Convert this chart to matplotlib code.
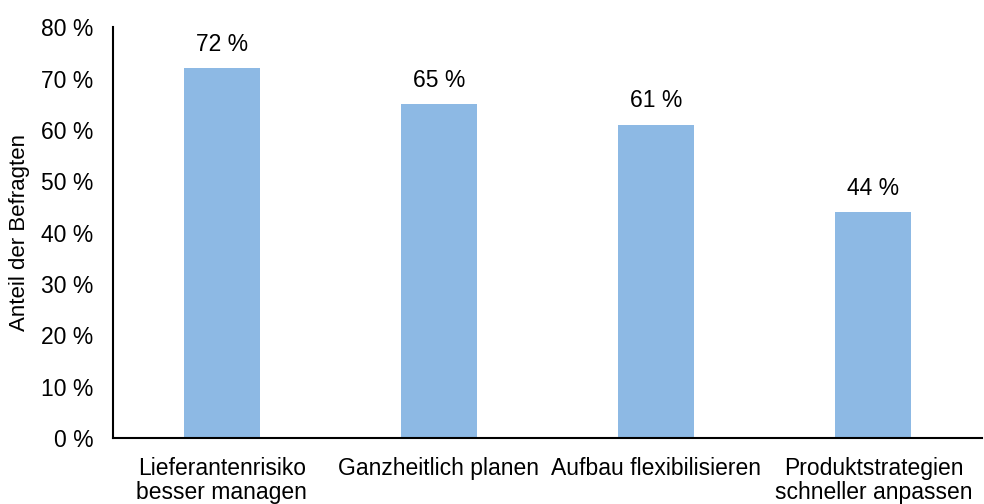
import matplotlib.pyplot as plt
import numpy as np

plt.rcParams['font.family'] = ['Liberation Sans', 'DejaVu Sans']

kategorien = ['Lieferantenrisiko\nbesser managen', 'Ganzheitlich planen',
              'Aufbau flexibilisieren', 'Produktstrategien\nschneller anpassen']
anteile = [72, 65, 61, 44]
y_ticks = [0, 10, 20, 30, 40, 50, 60, 70, 80]

fig = plt.figure(figsize=(9.84, 5.04), dpi=100)
ax = fig.add_axes([0.115, 0.131, 0.883, 0.815])

x = np.arange(len(kategorien))
bars = ax.bar(x, anteile, width=0.35, color='#8db9e4')

for b, v in zip(bars, anteile):
    ax.annotate(f'{v} %', (b.get_x() + b.get_width() / 2, v),
                xytext=(0, 9), textcoords='offset points',
                ha='center', va='bottom', fontsize=16.5)

ax.set_xlim(-0.5, len(kategorien) - 0.5)
ax.set_ylim(0, 80)
ax.set_yticks(y_ticks)
ax.set_yticklabels([f'{t} %' for t in y_ticks])
ax.set_xticks(x)
ax.set_xticklabels(kategorien)
ax.tick_params(axis='y', length=0, pad=14, labelsize=16.5)
ax.tick_params(axis='x', length=0, pad=14, labelsize=16.5)
for lab in ax.get_xticklabels():
    lab.set_linespacing(1.05)

ax.set_ylabel('Anteil der Befragten', fontsize=16)
ax.yaxis.set_label_coords(-0.096, 0.5)

for s in ['top', 'right']:
    ax.spines[s].set_visible(False)
for s in ['left', 'bottom']:
    ax.spines[s].set_linewidth(1.5)

fig.savefig('out.png', dpi=100)
